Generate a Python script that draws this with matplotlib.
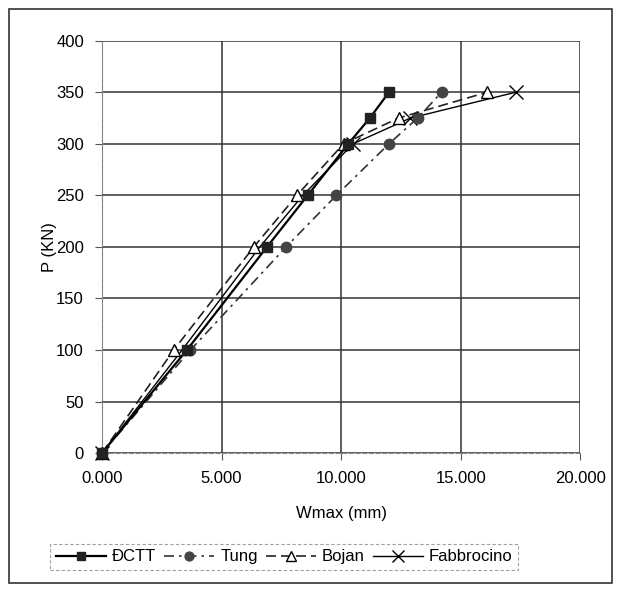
#!/usr/bin/env python3

import matplotlib

matplotlib.use("Agg")
import matplotlib.pyplot as plt
from matplotlib.patches import Rectangle

plt.rcParams["font.family"] = ["Liberation Sans", "DejaVu Sans"]

# load levels P (KN) and deflections Wmax (mm)
load = [0, 100, 200, 250, 300, 325, 350]
w_dctt = [0, 3.55, 6.9, 8.6, 10.3, 11.2, 12.0]
w_tung = [0, 3.7, 7.7, 9.8, 12.0, 13.2, 14.2]
w_bojan = [0, 3.0, 6.35, 8.15, 10.1, 12.4, 16.1]
w_fabb = [0, 3.35, 6.6, 8.4, 10.5, 12.9, 17.3]

x_ticks = [0, 5, 10, 15, 20]
x_tick_labels = ["0.000", "5.000", "10.000", "15.000", "20.000"]
y_ticks = [0, 50, 100, 150, 200, 250, 300, 350, 400]

fig = plt.figure(figsize=(6.18, 5.90), dpi=100)
ax = fig.add_axes([0.165, 0.232, 0.774, 0.699])

ax.plot(w_fabb, load, color="black", lw=1.0, marker="x", ms=10, mew=1.0,
        markevery=[0, 4, 5, 6], label="Fabbrocino", zorder=3, clip_on=False)
ax.plot(w_tung, load, color="#333333", lw=1.2, linestyle=(0, (6, 3, 1.5, 3)),
        marker="o", ms=7.5, mfc="#444444", mec="#444444", label="Tung",
        zorder=4, clip_on=False)
ax.plot(w_bojan, load, color="#222222", lw=1.2, linestyle=(0, (6, 3)),
        marker="^", ms=9, mfc="white", mec="black", mew=1.0, label="Bojan",
        zorder=5, clip_on=False)
ax.plot(w_dctt, load, color="black", lw=1.6, marker="s", ms=7,
        mfc="#222222", mec="#222222", label="ĐCTT", zorder=6, clip_on=False)

ax.set_xlim(0, 20)
ax.set_ylim(0, 400)
ax.set_xticks(x_ticks)
ax.set_xticklabels(x_tick_labels)
ax.set_yticks(y_ticks)
ax.tick_params(labelsize=12, length=5, width=0.8, color="#555555", pad=8)
ax.grid(True, color="#333333", lw=1.1)
for side, sp in ax.spines.items():
    if side in ("left", "bottom"):
        sp.set_color("#888888")
        sp.set_linestyle((0, (4, 2)))
        sp.set_linewidth(0.8)
    else:
        sp.set_visible(False)

ax.set_xlabel("Wmax (mm)", fontsize=12, labelpad=14)
ax.set_ylabel("P (KN)", fontsize=12, labelpad=-1)

handles, labels = ax.get_legend_handles_labels()
order = [3, 1, 2, 0]
leg = fig.legend([handles[i] for i in order], [labels[i] for i in order],
                 loc="center", bbox_to_anchor=(0.46, 0.056), ncol=4,
                 fontsize=12, frameon=True, fancybox=False, handlelength=3.0,
                 handletextpad=0.35, columnspacing=0.5, borderpad=0.35,
                 markerscale=0.85)
leg.get_frame().set_edgecolor("#888888")
leg.get_frame().set_linestyle((0, (3, 2)))
leg.get_frame().set_linewidth(0.8)

fig.patches.append(Rectangle((0.015, 0.012), 0.975, 0.973, transform=fig.transFigure,
                             fill=False, edgecolor="#333333", lw=1.2))

fig.savefig("out.png", dpi=100)
